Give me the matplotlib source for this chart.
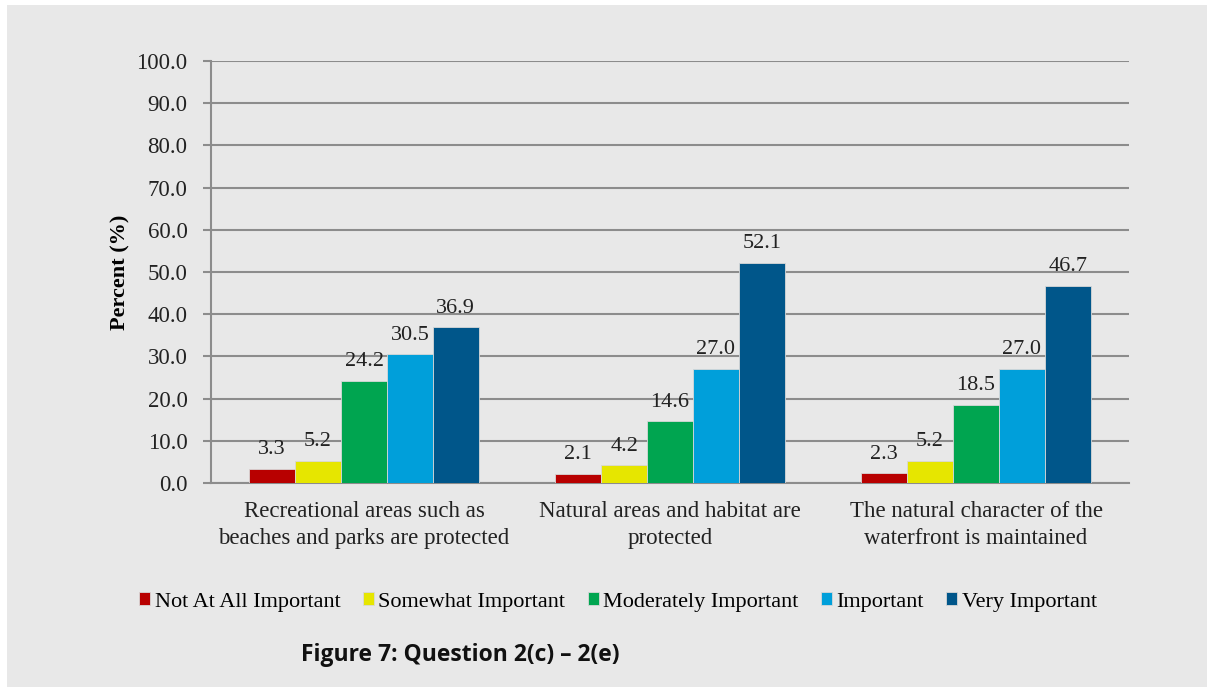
import numpy as np
import matplotlib.pyplot as plt
from matplotlib.patches import Rectangle

# data
categories = ['Recreational areas such as\nbeaches and parks are protected',
              'Natural areas and habitat are\nprotected',
              'The natural character of the\nwaterfront is maintained']
series = ['Not At All Important', 'Somewhat Important', 'Moderately Important',
          'Important', 'Very Important']
not_at_all = [3.3, 2.1, 2.3]
somewhat = [5.2, 4.2, 5.2]
moderately = [24.2, 14.6, 18.5]
important = [30.5, 27.0, 27.0]
very = [36.9, 52.1, 46.7]
yticks = np.arange(0, 101, 10)

colors = ['#B80000', '#E6E600', '#00A550', '#009FDA', '#00568A']
values = [not_at_all, somewhat, moderately, important, very]

serif = ['Liberation Serif', 'DejaVu Serif']

fig = plt.figure(figsize=(12.1, 6.87), dpi=100)
fig.patch.set_facecolor('white')
fig.patches.append(Rectangle((7 / 1210, 0), 1200 / 1210, 1 - 5 / 687,
                             transform=fig.transFigure, facecolor='#e8e8e8',
                             edgecolor='none', zorder=-10))

ax = fig.add_axes([211 / 1210, 1 - 483 / 687, 918 / 1210, 422 / 687])
ax.set_facecolor('none')

x = np.arange(len(categories))
w = 0.15
for i, (vals, c, name) in enumerate(zip(values, colors, series)):
    pos = x + (i - 2) * w
    ax.bar(pos, vals, w, color=c, label=name, edgecolor='#d8d8d8',
           linewidth=0.6, zorder=3)
    for xp, v in zip(pos, vals):
        ax.annotate(f'{v:.1f}', (xp, v), xytext=(0, 7), textcoords='offset points',
                    ha='center', va='bottom', fontsize=16, family=serif,
                    color='#222222')

ax.set_xlim(-0.5, 2.5)
ax.set_ylim(0, 100)
ax.set_yticks(yticks)
ax.set_yticklabels([f'{t:.1f}' for t in yticks], family=serif, fontsize=16.5,
                   color='#222222')
ax.set_xticks(x)
ax.set_xticklabels(categories, family=serif, fontsize=16.5, color='#222222',
                   linespacing=1.35)
ax.tick_params(axis='x', length=0, pad=13)
ax.tick_params(axis='y', length=6, width=1.5, color='#8c8c8c', pad=11)
ax.grid(axis='y', color='#8c8c8c', linewidth=1.5, zorder=0)
for s in ['top', 'right']:
    ax.spines[s].set_visible(False)
for s in ['left', 'bottom']:
    ax.spines[s].set_color('#8c8c8c')
    ax.spines[s].set_linewidth(1.5)
ax.set_ylabel('Percent (%)', family=serif, fontsize=16, fontweight='bold',
              labelpad=4)

fig.legend(loc='center', bbox_to_anchor=(618 / 1210, 1 - 602 / 687), ncol=5,
           frameon=False, handlelength=0.5, handleheight=0.5,
           handletextpad=0.2, columnspacing=1.0,
           prop={'family': serif, 'size': 16})

fig.text(460 / 1210, 1 - 655 / 687, 'Figure 7: Question 2(c) – 2(e)',
         ha='center', va='center', fontsize=16.5, fontweight='bold',
         family='Open Sans', color='#111111')

fig.savefig('out.png', dpi=100)
